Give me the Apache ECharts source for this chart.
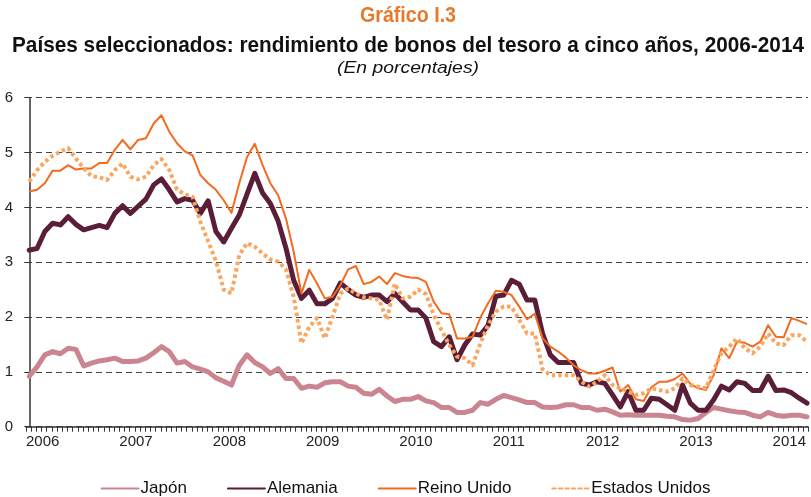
<!DOCTYPE html>
<html><head><meta charset="utf-8">
<script src="https://cdn.jsdelivr.net/npm/echarts@6/dist/echarts.min.js"></script>
<style>html,body{margin:0;padding:0;background:#fff}#c{width:811px;height:497px}</style>
</head><body><div id="c"></div>
<script>
// Tick labels (years)
const yearLabels = ['2006','2007','2008','2009','2010','2011','2012','2013','2014'];
// Monthly categories Jan 2006 .. May 2014
const months = [];
yearLabels.forEach(y => { for (let m = 1; m <= 12; m++) months.push(y + '-' + String(m).padStart(2, '0')); });
months.length = 101;

const japon = [0.92,1.09,1.31,1.37,1.33,1.43,1.41,1.11,1.16,1.20,1.22,1.25,1.19,1.19,1.20,1.25,1.35,1.46,1.37,1.16,1.19,1.09,1.05,1.00,0.89,0.83,0.76,1.12,1.31,1.17,1.09,0.97,1.06,
  0.88,0.88,0.70,0.74,0.72,0.80,0.82,0.82,0.74,0.72,0.61,0.59,0.68,0.56,0.46,0.50,0.50,0.55,0.47,0.44,0.35,0.35,0.26,0.26,0.30,0.44,0.41,0.50,0.57,0.53,0.49,0.44,0.44,0.36,
  0.35,0.36,0.40,0.40,0.35,0.35,0.30,0.32,0.27,0.21,0.22,0.21,0.21,0.21,0.21,0.19,0.18,0.13,0.12,0.15,0.26,0.35,0.32,0.29,0.27,0.26,0.21,0.18,0.26,0.21,0.19,0.21,0.21,0.18];
const alemania = [3.22,3.25,3.56,3.71,3.68,3.83,3.69,3.59,3.63,3.67,3.63,3.89,4.03,3.89,4.02,4.15,4.41,4.52,4.32,4.10,4.16,4.13,3.89,4.12,3.56,3.37,3.62,3.86,4.24,4.62,4.26,4.07,3.75,
  3.26,2.67,2.34,2.49,2.24,2.24,2.34,2.62,2.50,2.40,2.36,2.40,2.40,2.28,2.43,2.28,2.13,2.13,1.98,1.55,1.46,1.64,1.22,1.49,1.69,1.67,1.85,2.38,2.40,2.67,2.60,2.31,2.31,1.70,
  1.31,1.17,1.17,1.17,0.79,0.76,0.82,0.79,0.58,0.36,0.64,0.30,0.30,0.52,0.50,0.40,0.30,0.76,0.43,0.30,0.30,0.49,0.74,0.67,0.82,0.79,0.66,0.66,0.92,0.66,0.67,0.62,0.52,0.43];
const reinoUnido = [4.29,4.32,4.44,4.67,4.67,4.77,4.69,4.71,4.71,4.81,4.81,5.05,5.23,5.06,5.23,5.26,5.53,5.68,5.38,5.17,5.02,4.95,4.59,4.44,4.32,4.13,3.90,4.44,4.92,5.16,4.77,4.44,4.22,
  3.80,3.19,2.43,2.86,2.61,2.34,2.37,2.58,2.87,2.93,2.60,2.64,2.74,2.60,2.80,2.75,2.72,2.71,2.64,2.28,2.07,2.05,1.61,1.61,1.64,1.99,2.25,2.48,2.46,2.40,2.19,1.96,2.06,1.61,
  1.46,1.37,1.26,1.12,1.03,0.97,0.97,1.02,1.08,0.64,0.76,0.50,0.47,0.72,0.82,0.82,0.87,0.97,0.78,0.70,0.67,0.94,1.43,1.25,1.55,1.53,1.46,1.55,1.85,1.64,1.63,1.98,1.93,1.87];
const estadosUnidos = [4.47,4.68,4.83,4.94,5.02,5.08,4.89,4.71,4.57,4.55,4.50,4.68,4.80,4.56,4.51,4.56,4.77,4.88,4.68,4.32,4.24,4.19,3.74,3.38,3.02,2.50,2.43,3.13,3.35,3.28,3.16,3.05,3.01,
  2.87,2.37,1.52,1.82,1.98,1.61,2.01,2.43,2.52,2.43,2.36,2.34,2.31,1.95,2.61,2.34,2.37,2.50,2.42,2.04,1.76,1.49,1.28,1.25,1.12,1.52,1.85,2.10,2.19,2.19,1.95,1.70,1.70,1.05,
  0.94,0.94,0.94,0.94,0.82,0.73,0.82,0.94,0.76,0.70,0.64,0.58,0.61,0.70,0.67,0.64,0.70,0.88,0.76,0.73,0.70,1.03,1.34,1.46,1.61,1.43,1.34,1.46,1.70,1.52,1.49,1.67,1.67,1.55];

const seriesNames = ['Japón','Alemania','Reino Unido','Estados Unidos'];
const seriesData = [japon, alemania, reinoUnido, estadosUnidos];
const styles = [
  {color:'#CB8590', width:5, type:'solid', cap:'round'},
  {color:'#5B1E39', width:5, type:'solid', cap:'round'},
  {color:'#F26B21', width:2, type:'solid', cap:'butt'},
  {color:'#FBA55E', width:4, type:[3.5,3], cap:'butt'}
];

const titleLines = [
  {text:'Gráfico I.3', color:'#E8792B', weight:'bold', style:'normal', size:22, width:96, y:16},
  {text:'Países seleccionados: rendimiento de bonos del tesoro a cinco años, 2006-2014', color:'#111', weight:'bold', style:'normal', size:21.5, width:792, y:46.5},
  {text:'(En porcentajes)', color:'#111', weight:'normal', style:'italic', size:16.5, width:142, y:68}
];

const SPAN = 100.55;       // months spanned by the plotting grid (785 px wide)
const FIRST_OFFSET = 0.42; // first month sits slightly right of the y axis
const FONT = '"Liberation Sans",Arial,sans-serif';

const ctx = document.createElement('canvas').getContext('2d');
function measure(t) {
  ctx.font = t.style + ' ' + t.weight + ' ' + t.size + 'px ' + FONT;
  return ctx.measureText(t.text).width;
}

const chart = echarts.init(document.getElementById('c'), null, {renderer:'canvas'});
chart.setOption({
  animation:false,
  backgroundColor:'#fff',
  graphic: titleLines.map(t => ({
    type:'text', x:408, y:t.y, scaleX: t.width / measure(t), scaleY:1,
    style:{text:t.text, fill:t.color, font: t.style + ' ' + t.weight + ' ' + t.size + 'px ' + FONT, align:'center', verticalAlign:'middle'}
  })),
  legend:{
    data:seriesNames, left:'center', top:480, padding:0, itemGap:40, itemWidth:37, itemHeight:14,
    itemStyle:{opacity:0},
    lineStyle:{cap:'round'},
    textStyle:{fontFamily:FONT, fontSize:17, color:'#111', padding:[0,0,0,-3]}
  },
  grid:{left:26, top:97.7, bottom:70.3, right:0, containLabel:false},
  xAxis:[
    {type:'value', show:false, min:-FIRST_OFFSET, max:SPAN-FIRST_OFFSET, position:'bottom'},
    {type:'value', position:'bottom', min:0, max:SPAN, interval:12,
      axisLine:{show:true, onZero:false, lineStyle:{color:'#333', width:1.5}},
      axisTick:{show:false},
      splitLine:{show:false},
      axisLabel:{show:true, align:'left', margin:8, fontFamily:FONT, fontSize:15, color:'#222',
        formatter:v => { const k = Math.round(v/12); return (Math.abs(v - k*12) < 1e-6 && yearLabels[k]) ? yearLabels[k] : ''; }}
    },
    {type:'value', position:'bottom', min:0, max:SPAN, interval:2/3,
      axisLine:{show:false, onZero:false},
      axisTick:{show:true, length:5, lineStyle:{color:'#333', width:1}},
      axisLabel:{show:false},
      splitLine:{show:false}
    }
  ],
  yAxis:{type:'value', min:0, max:6, interval:1,
    axisLine:{show:true, lineStyle:{color:'#333', width:1.5}},
    axisTick:{show:true, length:5, lineStyle:{color:'#333'}},
    axisLabel:{margin:13, fontFamily:FONT, fontSize:15, color:'#222'},
    splitLine:{show:true, lineStyle:{color:'#444', width:1, type:[6,4]}}
  },
  series: seriesNames.map((name, s) => ({
    name, type:'line', xAxisIndex:0, symbol:'none', smooth:false,
    data: seriesData[s].map((v, i) => [i, v]),
    lineStyle:{color:styles[s].color, width:styles[s].width, type:styles[s].type, cap:styles[s].cap, join:'round'},
    itemStyle:{color:styles[s].color}
  }))
});
</script></body></html>
